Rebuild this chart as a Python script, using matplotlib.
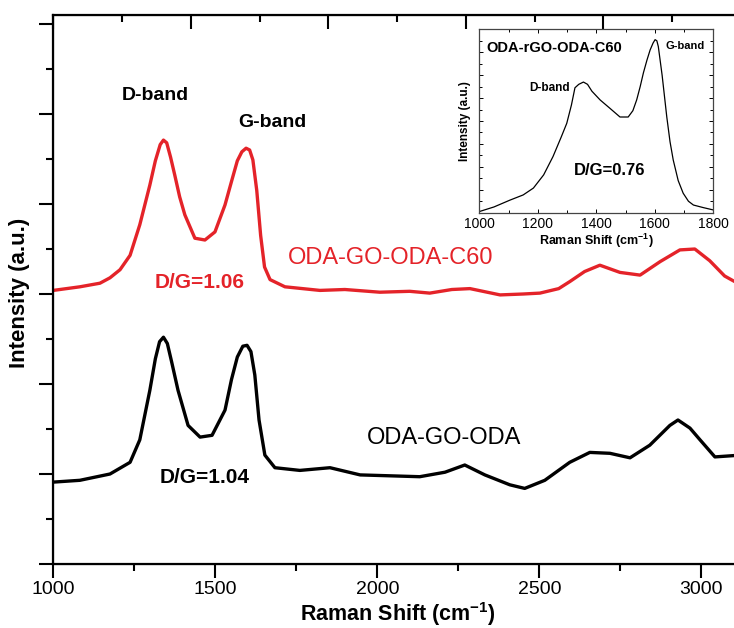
import matplotlib
matplotlib.use("Agg")
import matplotlib.pyplot as plt
from matplotlib.ticker import MultipleLocator, NullFormatter

plt.rcParams['font.family'] = ['Liberation Sans', 'DejaVu Sans']
plt.rcParams['mathtext.fontset'] = 'custom'
plt.rcParams['mathtext.rm'] = 'Liberation Sans'
plt.rcParams['mathtext.bf'] = 'Liberation Sans:bold'

RED = '#e42329'

# ODA-GO-ODA-C60 (red, offset trace)
red_shift = [1000, 1082, 1144, 1175, 1206, 1237, 1267, 1298, 1315, 1330, 1340, 1350,
             1362, 1375, 1390, 1406, 1437, 1468, 1499, 1530, 1550, 1568, 1582, 1595,
             1606, 1616, 1628, 1640, 1652, 1669, 1715, 1823, 1900, 2008, 2100, 2162,
             2230, 2286, 2379, 2450, 2502, 2560, 2595, 2640, 2687, 2749, 2811, 2873,
             2934, 2980, 3026, 3072, 3122]
red_int = [3.04, 3.08, 3.12, 3.18, 3.27, 3.43, 3.77, 4.21, 4.48, 4.66, 4.71, 4.68,
           4.52, 4.32, 4.08, 3.88, 3.62, 3.60, 3.69, 3.99, 4.25, 4.48, 4.58, 4.62,
           4.60, 4.49, 4.15, 3.65, 3.30, 3.16, 3.08, 3.04, 3.05, 3.02, 3.03, 3.01,
           3.05, 3.06, 2.99, 3.00, 3.01, 3.06, 3.14, 3.25, 3.32, 3.24, 3.21, 3.36,
           3.49, 3.50, 3.37, 3.20, 3.10]

# ODA-GO-ODA (black)
blk_shift = [1000, 1082, 1175, 1237, 1267, 1298, 1315, 1328, 1340, 1352, 1365, 1385,
             1416, 1453, 1490, 1530, 1550, 1568, 1585, 1598, 1610, 1622, 1635, 1653,
             1684, 1761, 1854, 1947, 2039, 2131, 2209, 2270, 2332, 2409, 2455, 2517,
             2594, 2656, 2718, 2780, 2841, 2903, 2928, 2965, 2996, 3042, 3122]
blk_int = [0.91, 0.93, 1.00, 1.13, 1.38, 1.93, 2.28, 2.47, 2.52, 2.45, 2.25, 1.93,
           1.54, 1.41, 1.43, 1.71, 2.05, 2.30, 2.42, 2.43, 2.36, 2.10, 1.60, 1.21,
           1.07, 1.04, 1.07, 0.99, 0.98, 0.97, 1.02, 1.10, 0.99, 0.88, 0.84, 0.93,
           1.13, 1.24, 1.23, 1.18, 1.32, 1.54, 1.60, 1.51, 1.38, 1.19, 1.21]

# inset: ODA-rGO-ODA-C60
ins_shift = [1000, 1050, 1105, 1150, 1185, 1220, 1252, 1280, 1299, 1315, 1327, 1340,
             1356, 1370, 1385, 1413, 1447, 1481, 1509, 1525, 1538, 1550, 1561, 1573,
             1584, 1594, 1601, 1607, 1612, 1625, 1641, 1652, 1663, 1680, 1697, 1715,
             1732, 1765, 1800]
ins_int = [0.1, 0.5, 1.1, 1.55, 2.15, 3.3, 4.9, 6.6, 7.8, 9.4, 10.9, 11.2,
           11.4, 11.2, 10.6, 9.84, 9.1, 8.35, 8.35, 8.9, 9.84, 11.0, 12.2, 13.3,
           14.2, 14.8, 15.1, 15.0, 14.5, 12.0, 8.35, 6.2, 4.6, 2.8, 1.7, 1.0,
           0.67, 0.45, 0.24]

fig = plt.figure(figsize=(7.34, 6.28), dpi=100)
ax = fig.add_axes([0.0726, 0.1019, 0.9367, 0.8742])

ax.plot(red_shift, red_int, color=RED, lw=2.4)
ax.plot(blk_shift, blk_int, color='black', lw=2.4)

ax.set_xlim(1000, 3122)
ax.set_ylim(0, 6.1)
ax.xaxis.set_major_locator(MultipleLocator(500))
ax.xaxis.set_minor_locator(MultipleLocator(250))
ax.yaxis.set_major_locator(MultipleLocator(1))
ax.yaxis.set_minor_locator(MultipleLocator(0.5))
ax.yaxis.set_major_formatter(NullFormatter())
ax.tick_params(which='major', direction='out', length=10, width=1.5, labelsize=14, pad=2)
ax.tick_params(which='minor', direction='out', length=5, width=1.5)
ax.tick_params(top=False, right=False, which='both')
for s in ax.spines.values():
    s.set_linewidth(1.6)

fig.text(398 / 734, 1 - 614 / 628, 'Raman Shift (cm$^{\\mathbf{-1}}$)', fontsize=15.5,
         fontweight='bold', ha='center', va='center')
fig.text(20 / 734, 1 - 293 / 628, 'Intensity (a.u.)', fontsize=16, fontweight='bold',
         rotation=90, ha='center', va='center')

# top axis ticks (separate scale)
top = ax.twiny()
top.set_xlim(0, 5)
top.xaxis.set_major_locator(MultipleLocator(1))
top.xaxis.set_minor_locator(MultipleLocator(0.5))
top.tick_params(axis='x', which='both', direction='in', top=True, bottom=False,
                labeltop=False, width=1.5)
top.tick_params(axis='x', which='major', length=10)
top.tick_params(axis='x', which='minor', length=5)

ax.text(1314, 5.21, 'D-band', fontsize=14, fontweight='bold', ha='center', va='center')
ax.text(1675, 4.91, 'G-band', fontsize=14, fontweight='bold', ha='center', va='center')
ax.text(2040, 3.4, 'ODA-GO-ODA-C60', fontsize=17, color=RED, ha='center', va='center')
ax.text(1453, 3.13, 'D/G=1.06', fontsize=15, color=RED, fontweight='bold', ha='center',
        va='center')
ax.text(2206, 1.4, 'ODA-GO-ODA', fontsize=17, color='black', ha='center', va='center')
ax.text(1468, 0.96, 'D/G=1.04', fontsize=15, color='black', fontweight='bold', ha='center',
        va='center')

# inset
ins = fig.add_axes([0.653, 0.6613, 0.3188, 0.292])
ins.plot(ins_shift, ins_int, color='black', lw=0.9)
ins.set_xlim(1000, 1800)
ins.set_ylim(0, 16)
ins.xaxis.set_major_locator(MultipleLocator(200))
ins.xaxis.set_minor_locator(MultipleLocator(100))
ins.yaxis.set_major_locator(MultipleLocator(2))
ins.yaxis.set_minor_locator(MultipleLocator(1))
ins.yaxis.set_major_formatter(NullFormatter())
ins.tick_params(which='both', direction='in', top=True, right=True, width=0.7,
                labelsize=10, pad=3)
ins.tick_params(which='major', length=3)
ins.tick_params(which='minor', length=2)
for s in ins.spines.values():
    s.set_linewidth(0.9)
    s.set_color('#444444')
ins.set_xlabel('Raman Shift (cm$^{\\mathbf{-1}}$)', fontsize=9, fontweight='bold', labelpad=1)
ins.set_ylabel('Intensity (a.u.)', fontsize=8.5, fontweight='bold', labelpad=3)
ins.text(0.03, 0.90, 'ODA-rGO-ODA-C60', transform=ins.transAxes, fontsize=10.5,
         fontweight='bold', ha='left', va='center')
ins.text(0.965, 0.91, 'G-band', transform=ins.transAxes, fontsize=8,
         fontweight='bold', ha='right', va='center')
ins.text(0.385, 0.68, 'D-band', transform=ins.transAxes, fontsize=8.5,
         fontweight='bold', ha='right', va='center')
ins.text(0.555, 0.23, 'D/G=0.76', transform=ins.transAxes, fontsize=12,
         fontweight='bold', ha='center', va='center')

fig.savefig('out.png', dpi=100)
